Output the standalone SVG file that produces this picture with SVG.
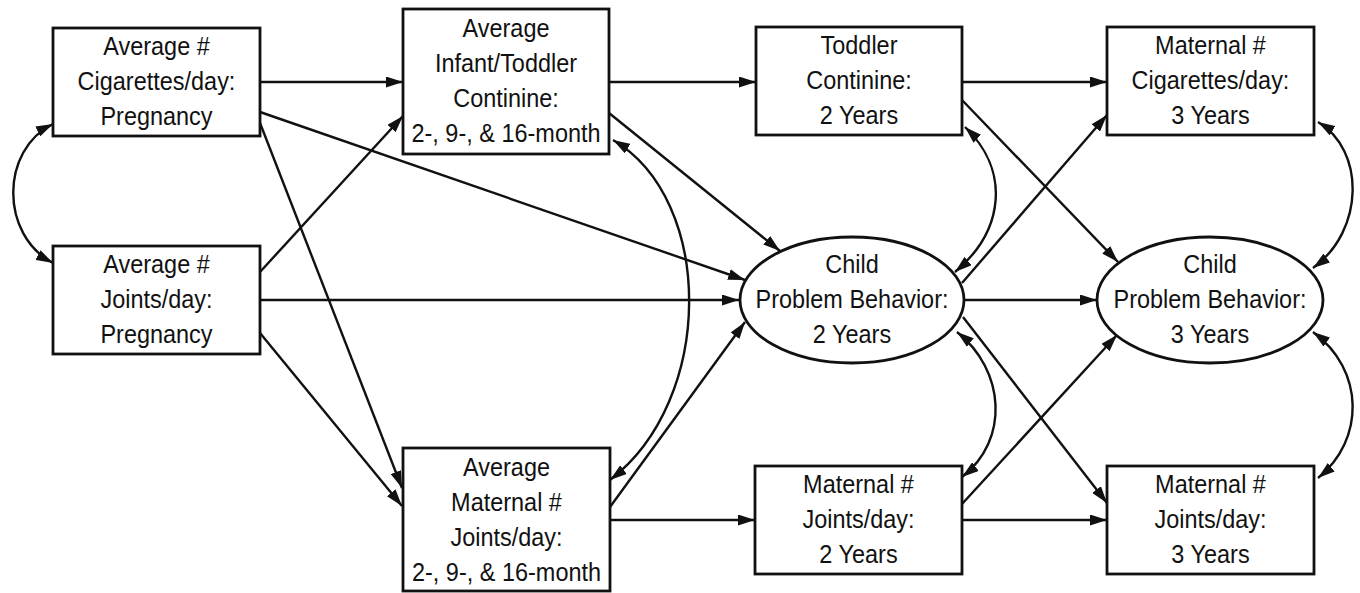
<svg xmlns="http://www.w3.org/2000/svg" width="1360" height="593" viewBox="0 0 1360 593">
<style>
.box{fill:#fff;stroke:#111;stroke-width:2.8}
.lbl{font-family:"Liberation Sans",Arial,sans-serif;font-size:25.5px;fill:#111;text-anchor:middle}
.c{fill:none;stroke:#111;stroke-width:2.4}
.a{marker-end:url(#ah)}
.d{marker-start:url(#ah);marker-end:url(#ah)}
</style>
<defs>
<marker id="ah" viewBox="0 0 17 11" refX="17" refY="5.5" markerWidth="17" markerHeight="11" markerUnits="userSpaceOnUse" orient="auto-start-reverse">
<path d="M0,0 L17,5.5 L0,11 z" fill="#111"/>
</marker>
</defs>
<rect width="1360" height="593" fill="#fff"/>
<g id="connectors">
<path class="c a" d="M260 82 L403 82"/>
<path class="c a" d="M609 82 L756 82"/>
<path class="c a" d="M962 82 L1107 82"/>
<path class="c a" d="M260 300 L739 300"/>
<path class="c a" d="M964 300 L1097 300"/>
<path class="c a" d="M610 520 L755 520"/>
<path class="c a" d="M962 520 L1107 520"/>
<path class="c a" d="M260 123 L402 488"/>
<path class="c a" d="M260 112 L745 280"/>
<path class="c a" d="M260 272 L403 116"/>
<path class="c a" d="M260 333 L402 506"/>
<path class="c a" d="M609 113 L780 251"/>
<path class="c a" d="M610 507 L745 322"/>
<path class="c d" d="M613 140 C 715 200, 715 400, 610 480"/>
<path class="c a" d="M962 100 L1118 262"/>
<path class="c a" d="M962 283 L1107 115"/>
<path class="c d" d="M965 127 C 1010 170, 1005 230, 955 272"/>
<path class="c d" d="M1318 122 C 1365 150, 1365 230, 1313 268"/>
<path class="c d" d="M1313 332 C 1365 370, 1365 440, 1318 478"/>
<path class="c d" d="M957 332 C 1005 370, 1010 440, 962 477"/>
<path class="c a" d="M963 317 L1107 503"/>
<path class="c a" d="M962 504 L1117 335"/>
<path class="c d" d="M53 124 C 0 150, 0 235, 53 263"/>
</g>
<g id="cig-pregnancy">
<rect class="box" x="53" y="28" width="207" height="108"/>
<text class="lbl" transform="translate(156.5 0) scale(0.92 1)"><tspan x="0" y="55">Average #</tspan><tspan x="0" y="90">Cigarettes/day:</tspan><tspan x="0" y="125">Pregnancy</tspan></text>
</g>
<g id="joints-pregnancy">
<rect class="box" x="53" y="246" width="207" height="108"/>
<text class="lbl" transform="translate(156.5 0) scale(0.92 1)"><tspan x="0" y="273">Average #</tspan><tspan x="0" y="308">Joints/day:</tspan><tspan x="0" y="343">Pregnancy</tspan></text>
</g>
<g id="infant-continine">
<rect class="box" x="403" y="9" width="206" height="145"/>
<text class="lbl" transform="translate(506 0) scale(0.92 1)"><tspan x="0" y="37">Average</tspan><tspan x="0" y="72">Infant/Toddler</tspan><tspan x="0" y="107">Continine:</tspan><tspan x="0" y="142">2-, 9-, &amp; 16-month</tspan></text>
</g>
<g id="toddler-continine">
<rect class="box" x="756" y="27" width="206" height="108"/>
<text class="lbl" transform="translate(859 0) scale(0.92 1)"><tspan x="0" y="54">Toddler</tspan><tspan x="0" y="89">Continine:</tspan><tspan x="0" y="124">2 Years</tspan></text>
</g>
<g id="maternal-cig-3">
<rect class="box" x="1107" y="27" width="207" height="108"/>
<text class="lbl" transform="translate(1210.5 0) scale(0.92 1)"><tspan x="0" y="54">Maternal #</tspan><tspan x="0" y="89">Cigarettes/day:</tspan><tspan x="0" y="124">3 Years</tspan></text>
</g>
<g id="behavior-2">
<ellipse class="box" cx="852" cy="300" rx="112" ry="63"/>
<text class="lbl" transform="translate(852 0) scale(0.92 1)"><tspan x="0" y="273">Child</tspan><tspan x="0" y="308">Problem Behavior:</tspan><tspan x="0" y="343">2 Years</tspan></text>
</g>
<g id="behavior-3">
<ellipse class="box" cx="1210" cy="300" rx="113" ry="63"/>
<text class="lbl" transform="translate(1210 0) scale(0.92 1)"><tspan x="0" y="273">Child</tspan><tspan x="0" y="308">Problem Behavior:</tspan><tspan x="0" y="343">3 Years</tspan></text>
</g>
<g id="maternal-joints-avg">
<rect class="box" x="403" y="448" width="207" height="143"/>
<text class="lbl" transform="translate(506.5 0) scale(0.92 1)"><tspan x="0" y="476">Average</tspan><tspan x="0" y="511">Maternal #</tspan><tspan x="0" y="546">Joints/day:</tspan><tspan x="0" y="581">2-, 9-, &amp; 16-month</tspan></text>
</g>
<g id="maternal-joints-2">
<rect class="box" x="755" y="466" width="207" height="108"/>
<text class="lbl" transform="translate(858.5 0) scale(0.92 1)"><tspan x="0" y="493">Maternal #</tspan><tspan x="0" y="528">Joints/day:</tspan><tspan x="0" y="563">2 Years</tspan></text>
</g>
<g id="maternal-joints-3">
<rect class="box" x="1107" y="466" width="207" height="108"/>
<text class="lbl" transform="translate(1210.5 0) scale(0.92 1)"><tspan x="0" y="493">Maternal #</tspan><tspan x="0" y="528">Joints/day:</tspan><tspan x="0" y="563">3 Years</tspan></text>
</g>
</svg>
